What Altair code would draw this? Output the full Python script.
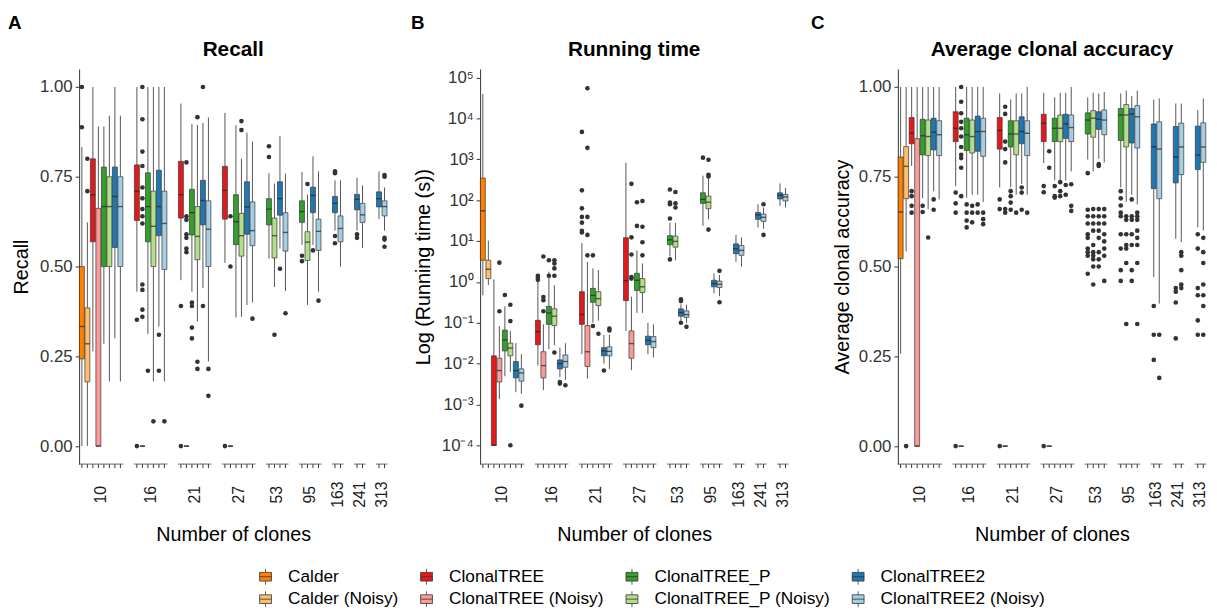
import altair as alt
import pandas as pd

FONT = "Liberation Sans"

METHODS = ["Calder", "Calder (Noisy)", "ClonalTREE", "ClonalTREE (Noisy)",
           "ClonalTREE_P", "ClonalTREE_P (Noisy)", "ClonalTREE2", "ClonalTREE2 (Noisy)"]
COLORS = ["#FF7F00", "#FDBF6F", "#E31A1C", "#FB9A99",
          "#33A02C", "#B2DF8A", "#1F78B4", "#A6CEE3"]

CLONES = ["10", "16", "21", "27", "53", "95", "163", "241", "313"]
GROUP_METHODS = [METHODS, METHODS[2:], METHODS[2:], METHODS[2:],
                 METHODS[4:], METHODS[4:], METHODS[6:], METHODS[6:], METHODS[6:]]

# ---------------- Recall ----------------
RECALL_LO = [0.00, 0.00, 0.264, 0.00, 0.285, 0.18, 0.30, 0.18,
             0.43, 0.00, 0.312, 0.18, 0.333, 0.18,
             0.462, 0.00, 0.43, 0.347, 0.44, 0.236,
             0.51, 0.00, 0.358, 0.36, 0.393, 0.40,
             0.522, 0.443, 0.55, 0.432,
             0.56, 0.393, 0.56, 0.43,
             0.60, 0.50,
             0.60, 0.552,
             0.632, 0.60]
RECALL_Q1 = [0.243, 0.179, 0.569, 0.00, 0.50, 0.50, 0.553, 0.50,
             0.628, 0.00, 0.569, 0.50, 0.586, 0.492,
             0.635, 0.00, 0.588, 0.519, 0.616, 0.50,
             0.632, 0.00, 0.561, 0.529, 0.59, 0.558,
             0.616, 0.524, 0.643, 0.543,
             0.623, 0.517, 0.65, 0.545,
             0.65, 0.569,
             0.658, 0.623,
             0.666, 0.641]
RECALL_MED = [0.333, 0.285, 0.70, 0.00, 0.667, 0.667, 0.695, 0.667,
              0.71, 0.00, 0.667, 0.612, 0.667, 0.62,
              0.70, 0.00, 0.65, 0.584, 0.684, 0.604,
              0.712, 0.00, 0.625, 0.586, 0.666, 0.60,
              0.66, 0.586, 0.689, 0.595,
              0.653, 0.568, 0.698, 0.598,
              0.676, 0.606,
              0.687, 0.644,
              0.689, 0.667]
RECALL_Q3 = [0.50, 0.385, 0.80, 0.662, 0.777, 0.75, 0.777, 0.75,
             0.783, 0.00, 0.761, 0.71, 0.768, 0.71,
             0.793, 0.00, 0.715, 0.667, 0.74, 0.683,
             0.779, 0.00, 0.70, 0.648, 0.736, 0.68,
             0.689, 0.635, 0.736, 0.65,
             0.683, 0.597, 0.721, 0.632,
             0.695, 0.641,
             0.701, 0.676,
             0.708, 0.683]
RECALL_HI = [0.833, 0.623, 1.00, 0.89, 0.89, 0.92, 1.00, 0.92,
             1.00, 0.00, 1.00, 1.00, 1.00, 1.00,
             0.954, 0.00, 0.897, 0.894, 0.90, 0.915,
             0.928, 0.00, 0.894, 0.80, 0.873, 0.848,
             0.76, 0.731, 0.864, 0.759,
             0.763, 0.70, 0.807, 0.765,
             0.74, 0.74,
             0.747, 0.726,
             0.765, 0.72]
RECALL_OUT = [[1.00, 0.888], [0.80, 0.71], [], [], [], [], [], [],
              [0.352, 0.00], [1.00, 0.91, 0.82, 0.78, 0.72, 0.69, 0.66, 0.64, 0.62, 0.45, 0.435, 0.38, 0.36],
              [0.21], [0.069], [0.31, 0.21], [0.069],
              [0.39, 0.00], [0.79, 0.64, 0.63, 0.59, 0.58, 0.55, 0.54], [0.40, 0.39, 0.33, 0.30],
              [0.916, 0.235, 0.215], [1.00, 0.39], [0.215, 0.14],
              [0.00], [0.64, 0.50], [], [0.905, 0.88], [], [0.355],
              [0.835, 0.805], [0.31], [0.494], [0.37],
              [0.53, 0.515], [0.73], [0.545], [0.405],
              [0.765, 0.76, 0.585, 0.565], [],
              [0.59, 0.58], [],
              [], [0.755, 0.75, 0.58, 0.575, 0.555]]

# ---------------- Running time (log10 of seconds) ----------------
TIME_LO = [-0.33, -0.08, -4.0, -2.87, -2.31, -2.20, -2.70, -2.74,
           -2.05, -2.65, -1.65, -1.55, -2.33, -2.40,
           -1.77, -2.37, -1.00, -0.95, -2.00, -2.13,
           -1.20, -2.16, -0.76, -0.76, -1.77, -1.85,
           0.62, 0.53, -0.95, -1.00,
           1.37, 1.53, -0.28, -0.35,
           0.49, 0.37,
           1.33, 1.30,
           1.86, 1.82]
TIME_Q1 = [0.53, 0.08, -4.0, -2.45, -1.69, -1.81, -2.35, -2.43,
           -1.54, -2.35, -1.04, -1.07, -2.13, -2.09,
           -1.04, -2.07, -0.50, -0.58, -1.81, -1.81,
           -0.46, -1.87, -0.21, -0.26, -1.54, -1.61,
           0.91, 0.85, -0.84, -0.87,
           1.92, 1.79, -0.12, -0.14,
           0.69, 0.65,
           1.53, 1.48,
           2.03, 1.98]
TIME_MED = [1.74, 0.31, -4.0, -2.17, -1.42, -1.62, -2.17, -2.23,
            -1.22, -2.05, -0.76, -0.84, -2.00, -1.95,
            -0.80, -1.71, -0.33, -0.41, -1.69, -1.70,
            0.03, -1.51, 0.04, -0.12, -1.43, -1.46,
            1.03, 0.99, -0.75, -0.80,
            2.02, 1.95, -0.04, -0.06,
            0.81, 0.77,
            1.64, 1.58,
            2.12, 2.08]
TIME_Q3 = [2.54, 0.53, -1.81, -1.87, -1.18, -1.50, -1.95, -2.13,
           -0.94, -1.71, -0.60, -0.66, -1.91, -1.79,
           -0.24, -1.07, -0.16, -0.24, -1.61, -1.59,
           1.08, -1.20, 0.21, 0.08, -1.33, -1.34,
           1.13, 1.12, -0.66, -0.71,
           2.18, 2.10, 0.04, 0.02,
           0.93, 0.89,
           1.70, 1.66,
           2.18, 2.14]
TIME_HI = [4.60, 1.01, 0.06, -1.08, -0.60, -1.20, -1.50, -1.77,
           0.00, -1.04, 0.25, -0.08, -1.61, -1.50,
           0.95, 0.49, 0.33, 0.29, -1.30, -1.30,
           2.92, -0.36, 0.77, 0.45, -1.00, -1.04,
           1.45, 1.44, -0.55, -0.56,
           2.60, 2.54, 0.21, 0.17,
           1.15, 1.09,
           1.90, 1.82,
           2.41, 2.30]
TIME_OUT = [[], [], [], [0.47, -0.72], [-0.32], [-0.56, -0.96, -4.0], [], [-3.03],
            [0.15, 0.10, 0.05], [0.62, -0.37, -0.45, -0.72], [0.53, 0.15],
            [0.53, 0.45, 0.33, 0.15, -1.73], [-2.45, -2.49], [-2.53],
            [3.67, 2.24, 1.80, 1.59, 1.45, 1.25, 1.21], [4.74, 3.28, 1.59, 1.15, 0.65],
            [0.65, -1.08], [-1.27], [-2.17], [-1.14, -1.19],
            [], [2.40, 1.09, 0.67, 0.12, 0.08], [1.95, 1.37], [1.98, 1.35, 0.97, 0.65], [], [],
            [2.26, 1.94, 1.90, 1.55, 0.55], [2.20, 1.92, 1.82], [-0.43, -0.47, -1.00], [-1.10],
            [3.04], [2.99, 2.62, 2.58, 1.28], [], [0.27, -0.50],
            [], [],
            [], [1.90, 1.15],
            [], []]

# ---------------- Average clonal accuracy ----------------
ACC_LO = [0.257, 0.542, 0.78, 0.00, 0.69, 0.66, 0.71, 0.687,
          0.724, 0.00, 0.692, 0.70, 0.70, 0.68,
          0.72, 0.00, 0.72, 0.70, 0.73, 0.70,
          0.788, 0.00, 0.74, 0.74, 0.74, 0.765,
          0.798, 0.765, 0.80, 0.79,
          0.72, 0.68, 0.70, 0.673,
          0.471, 0.397,
          0.577, 0.568,
          0.609, 0.60]
ACC_Q1 = [0.522, 0.689, 0.842, 0.00, 0.811, 0.809, 0.825, 0.809,
          0.848, 0.00, 0.823, 0.816, 0.821, 0.807,
          0.827, 0.00, 0.833, 0.811, 0.842, 0.809,
          0.848, 0.00, 0.848, 0.848, 0.857, 0.848,
          0.869, 0.86, 0.882, 0.867,
          0.851, 0.833, 0.844, 0.83,
          0.717, 0.689,
          0.733, 0.756,
          0.77, 0.79]
ACC_MED = [0.652, 0.779, 0.871, 0.00, 0.864, 0.862, 0.874, 0.867,
           0.885, 0.00, 0.867, 0.862, 0.876, 0.876,
           0.879, 0.00, 0.869, 0.869, 0.876, 0.871,
           0.899, 0.00, 0.885, 0.885, 0.897, 0.887,
           0.908, 0.913, 0.91, 0.908,
           0.922, 0.922, 0.925, 0.917,
           0.833, 0.827,
           0.805, 0.833,
           0.811, 0.833]
ACC_Q3 = [0.805, 0.834, 0.915, 0.856, 0.91, 0.908, 0.913, 0.906,
          0.931, 0.00, 0.913, 0.908, 0.919, 0.913,
          0.915, 0.00, 0.906, 0.906, 0.917, 0.906,
          0.924, 0.00, 0.913, 0.922, 0.924, 0.922,
          0.928, 0.934, 0.931, 0.936,
          0.94, 0.951, 0.94, 0.948,
          0.897, 0.903,
          0.89, 0.899,
          0.891, 0.90]
ACC_HI = [1.00, 1.00, 1.00, 1.00, 1.00, 1.00, 1.00, 1.00,
          1.00, 0.00, 1.00, 1.00, 1.00, 1.00,
          0.982, 0.00, 0.965, 0.982, 0.982, 1.00,
          0.984, 0.00, 0.971, 0.984, 0.984, 1.00,
          0.971, 0.984, 0.982, 0.986,
          0.982, 0.99, 0.975, 0.99,
          0.965, 0.968,
          0.954, 0.954,
          0.936, 0.968]
ACC_OUT = [[], [0.00], [0.71, 0.696, 0.669, 0.65], [], [0.669, 0.652], [0.581], [0.687, 0.658], [],
           [0.706, 0.676, 0.65, 0.00],
           [1.0, 0.959, 0.927, 0.903, 0.885, 0.862, 0.833, 0.811, 0.802, 0.775, 0.696],
           [0.673, 0.65, 0.628, 0.609], [0.669, 0.65, 0.623], [0.673, 0.65], [0.65, 0.632, 0.618],
           [0.687, 0.66, 0.00], [0.945, 0.925, 0.848, 0.827, 0.79, 0.66, 0.65],
           [0.71, 0.696, 0.678, 0.658], [0.65], [0.72, 0.706, 0.658], [0.65],
           [0.724, 0.707, 0.00], [0.821, 0.775], [0.724, 0.696, 0.692], [0.735, 0.71, 0.696],
           [0.727, 0.70], [0.729, 0.669, 0.655],
           [0.76, 0.658, 0.64, 0.62, 0.59, 0.58, 0.55, 0.54, 0.53, 0.48],
           [0.66, 0.64, 0.62, 0.60, 0.56, 0.54, 0.53, 0.52, 0.50, 0.45],
           [0.785, 0.78, 0.66, 0.64, 0.62, 0.60, 0.58, 0.54, 0.52, 0.50],
           [0.66, 0.64, 0.62, 0.59, 0.57, 0.55, 0.53, 0.46],
           [0.71, 0.69, 0.67, 0.65, 0.64, 0.59, 0.55, 0.49, 0.46],
           [0.64, 0.63, 0.59, 0.56, 0.55, 0.51, 0.34],
           [0.687, 0.64, 0.63, 0.59, 0.56, 0.49, 0.46],
           [0.65, 0.64, 0.63, 0.60, 0.58, 0.56, 0.51, 0.34],
           [0.39, 0.31, 0.24], [0.31, 0.19],
           [0.44, 0.43, 0.40, 0.30], [0.54, 0.53, 0.49, 0.45, 0.44],
           [0.59, 0.55, 0.44, 0.42, 0.35, 0.31], [0.58, 0.54, 0.51, 0.45, 0.42, 0.39, 0.31]]

# ---------------- tables ----------------
BOX_CLONES, BOX_METHODS = [], []
SLOTS = []
for gi, (c, ms) in enumerate(zip(CLONES, GROUP_METHODS)):
    if gi > 0:
        SLOTS += [f"gap{gi}a", f"gap{gi}b"]
    for m in ms:
        BOX_CLONES.append(c)
        BOX_METHODS.append(m)
        SLOTS.append(f"{c}|{m}")

LABELS = pd.DataFrame({
    "clones": CLONES,
    "slot": [f"{c}|{ms[len(ms) // 2 - 1]}" for c, ms in zip(CLONES, GROUP_METHODS)],
})


def box_table(lo, q1, med, q3, hi, log=False):
    f = (lambda v: 10 ** v) if log else (lambda v: v)
    df = pd.DataFrame({
        "clones": BOX_CLONES, "method": BOX_METHODS,
        "lo": [f(v) for v in lo], "q1": [f(v) for v in q1], "med": [f(v) for v in med],
        "q3": [f(v) for v in q3], "hi": [f(v) for v in hi],
    })
    df["slot"] = df["clones"] + "|" + df["method"]
    return df


def out_table(outs, log=False):
    rows = []
    for c, m, vals in zip(BOX_CLONES, BOX_METHODS, outs):
        for v in vals:
            rows.append({"slot": f"{c}|{m}", "method": m, "value": 10 ** v if log else v})
    return pd.DataFrame(rows)


W, H = 312, 400
STEP = W / len(SLOTS)
BOX_W = 5
N_TAIL = 3  # empty slots after panel B (widens the gap before panel C)

LEGEND_SYMBOL = "M-0.75,-0.55H0.75V0.55H-0.75Z M-0.75,0H0.75 M0,-0.55V-1 M0,0.55V1"
COLOR = alt.Color("method:N", scale=alt.Scale(domain=METHODS, range=COLORS),
                  legend=alt.Legend(title=None, orient="none", legendX=180, legendY=505,
                                    columns=4, symbolType=LEGEND_SYMBOL, symbolSize=256,
                                    symbolStrokeColor="#333333", symbolStrokeWidth=0.8,
                                    symbolOpacity=1, labelFontSize=17.5, labelFont=FONT,
                                    labelColor="black", labelLimit=300, labelOffset=14,
                                    columnPadding=19, rowPadding=3, padding=0))


def panel(box, out, title, letter, letter_x, ytitle, yscale, yaxis_extra, tail=0):
    domain = SLOTS + [f"tail{i}" for i in range(tail)]
    width = W + tail * STEP
    xscale = alt.Scale(domain=domain, paddingInner=0, paddingOuter=0)
    xaxis = alt.Axis(title="Number of clones", labels=False, ticks=False, domain=False,
                     grid=False, titlePadding=61, titleFontSize=20, titleFont=FONT,
                     titleFontWeight="normal", titleColor="black", titleX=W / 2,
                     titleAlign="center")

    def X(**kw):
        return alt.X("slot:N", scale=xscale, axis=xaxis, **kw)

    yaxis = alt.Axis(title=ytitle, grid=False, tickSize=4, tickColor="#333333",
                     domainColor="#333333", labelFontSize=17, labelFont=FONT,
                     labelColor="#333333", titleFontSize=20, titleFont=FONT,
                     titleFontWeight="normal", titleColor="black", labelPadding=3,
                     **yaxis_extra)

    def Y(f):
        return alt.Y(f, type="quantitative", scale=yscale, axis=yaxis)

    base = alt.Chart(box)
    w_lo = base.mark_rule(color="#555555", strokeWidth=1).encode(x=X(), y=Y("lo"), y2="q1")
    w_hi = base.mark_rule(color="#555555", strokeWidth=1).encode(x=X(), y=Y("q3"), y2="hi")
    boxes = base.mark_bar(size=BOX_W, stroke="#333333", strokeWidth=0.7).encode(
        x=X(), y=Y("q1"), y2="q3", color=COLOR)
    meds = base.mark_tick(orient="horizontal", size=BOX_W, thickness=1.4, color="#222222").encode(
        x=X(), y=Y("med"))
    pts = alt.Chart(out).mark_circle(size=22, color="#333333", opacity=1).encode(
        x=X(), y=Y("value"))
    seg = base.mark_tick(orient="horizontal", size=STEP + 0.6, thickness=1, color="#333333").encode(
        x=X(), y=alt.value(H))
    ticks = base.mark_rule(color="#333333", strokeWidth=1).encode(
        x=X(), y=alt.value(H), y2=alt.value(H + 4))
    glabels = alt.Chart(LABELS).mark_text(angle=270, align="center", baseline="middle",
                                          fontSize=16, font=FONT, color="#1a1a1a").encode(
        x=X(bandPosition=1), y=alt.value(H + 31), text="clones:N")
    let = alt.Chart(pd.DataFrame({"t": [letter]})).mark_text(
        align="left", baseline="alphabetic", fontSize=19, fontWeight="bold", font=FONT,
        color="black").encode(x=alt.value(letter_x), y=alt.value(-41), text="t:N")
    ttl = alt.Chart(pd.DataFrame({"t": [title]})).mark_text(
        align="center", baseline="alphabetic", fontSize=21, fontWeight="bold", font=FONT,
        color="black").encode(x=alt.value(W / 2), y=alt.value(-13), text="t:N")
    return alt.layer(w_lo, w_hi, boxes, meds, pts, seg, ticks, glabels, let, ttl).properties(
        width=width, height=H)


LIN = alt.Scale(domain=[-0.05, 1.05], nice=False, zero=False)
LIN_AX = dict(values=[0, 0.25, 0.5, 0.75, 1.0], format=".2f")

SUP = {"-": "\u207b", "0": "\u2070", "1": "\u00b9", "2": "\u00b2", "3": "\u00b3",
       "4": "\u2074", "5": "\u2075"}
EXPS = list(range(-4, 6))
expr = None
for e in reversed(EXPS):
    lab = "10" + "".join(SUP[ch] for ch in str(e))
    expr = f"'{lab}'" if expr is None else f"datum.value < {10 ** (e + 0.5)} ? '{lab}' : ({expr})"
LOG = alt.Scale(type="log", domain=[10 ** -4.46, 10 ** 5.21], nice=False)
LOG_AX = dict(values=[10 ** e for e in EXPS], labelExpr=expr)

pA = panel(box_table(RECALL_LO, RECALL_Q1, RECALL_MED, RECALL_Q3, RECALL_HI),
           out_table(RECALL_OUT), "Recall", "A", -72, "Recall", LIN,
           dict(LIN_AX, titlePadding=8))
pB = panel(box_table(TIME_LO, TIME_Q1, TIME_MED, TIME_Q3, TIME_HI, log=True),
           out_table(TIME_OUT, log=True), "Running time", "B", -70, "Log (Running time (s))", LOG,
           dict(LOG_AX, titlePadding=8), tail=N_TAIL)
pC = panel(box_table(ACC_LO, ACC_Q1, ACC_MED, ACC_Q3, ACC_HI),
           out_table(ACC_OUT), "Average clonal accuracy", "C", -88, "Average clonal accuracy", LIN,
           dict(LIN_AX, titlePadding=6))

chart = alt.hconcat(pA, pB, pC, spacing=94, bounds="flush").properties(
    padding={"left": 0, "top": 2, "right": 0, "bottom": 0}
).configure(background="white").configure_view(stroke=None)

chart.save("out.html", embed_options={"renderer": "svg", "actions": False})
